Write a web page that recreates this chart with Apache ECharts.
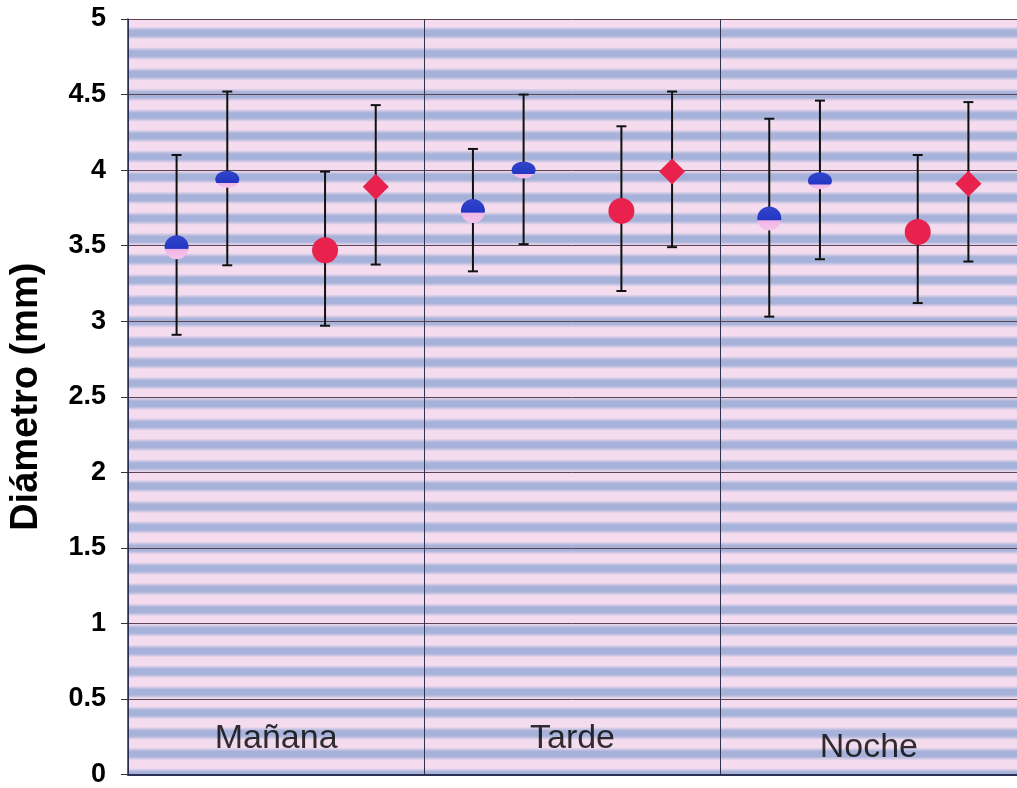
<!DOCTYPE html>
<html>
<head>
<meta charset="utf-8">
<style>html,body{margin:0;padding:0;background:#fff;}#c{width:1017px;height:788px;}</style>
<script src="https://cdn.jsdelivr.net/npm/echarts@6/dist/echarts.min.js"></script>
</head>
<body>
<div id="c"></div>
<script>
var categories = ['Mañana', 'Tarde', 'Noche'];
var yTicks = [0, 0.5, 1, 1.5, 2, 2.5, 3, 3.5, 4, 4.5, 5];
// [mean, low, high] per category
var serieA = [[3.49, 2.91, 4.10], [3.73, 3.33, 4.14], [3.68, 3.03, 4.34]];
var serieB = [[3.94, 3.37, 4.52], [4.00, 3.51, 4.50], [3.93, 3.41, 4.46]];
var serieC = [[3.47, 2.97, 3.99], [3.73, 3.20, 4.29], [3.59, 3.12, 4.10]];
var serieD = [[3.89, 3.375, 4.43], [3.99, 3.49, 4.52], [3.91, 3.395, 4.45]];
var labelHeights = [0.238, 0.238, 0.178];

// striped background pattern
var pc = document.createElement('canvas');
pc.width = 8; pc.height = 206;
var pctx = pc.getContext('2d');
pctx.fillStyle = '#f4dcee';
pctx.fillRect(0, 0, 8, 206);
for (var k = -1; k <= 10; k++) {
  var cy = 12.4 + k * 20.6;
  var g = pctx.createLinearGradient(0, cy - 6.5, 0, cy + 6.5);
  g.addColorStop(0, 'rgba(166,178,218,0)');
  g.addColorStop(0.3, 'rgba(166,178,218,1)');
  g.addColorStop(0.7, 'rgba(166,178,218,1)');
  g.addColorStop(1, 'rgba(166,178,218,0)');
  pctx.fillStyle = g;
  pctx.fillRect(0, cy - 6.5, 8, 13);
}

function blueGrad(split) {
  return new echarts.graphic.LinearGradient(0, 0, 0, 1, [
    {offset: 0, color: '#3346c8'},
    {offset: split, color: '#2236c4'},
    {offset: split + 0.05, color: '#f2b6e6'},
    {offset: 1, color: '#f4c4ec'}
  ]);
}

function makeSeries(name, data, offsetFrac, symbol) {
  return {
    name: name,
    type: 'custom',
    data: data.map(function (d, i) { return [i, d[0], d[1], d[2]]; }),
    encode: {x: 0, y: [1, 2, 3]},
    z: 5,
    renderItem: function (params, api) {
      var idx = api.value(0);
      var band = api.size([1, 0])[0];
      var pMean = api.coord([idx, api.value(1)]);
      var pLow = api.coord([idx, api.value(2)]);
      var pHigh = api.coord([idx, api.value(3)]);
      var x = pMean[0] + offsetFrac * band;
      var cap = 5;
      var ls = {stroke: '#111', lineWidth: 2};
      var children = [
        {type: 'line', shape: {x1: x, y1: pLow[1], x2: x, y2: pHigh[1]}, style: ls},
        {type: 'line', shape: {x1: x - cap, y1: pLow[1], x2: x + cap, y2: pLow[1]}, style: ls},
        {type: 'line', shape: {x1: x - cap, y1: pHigh[1], x2: x + cap, y2: pHigh[1]}, style: ls}
      ];
      var y = pMean[1];
      if (symbol === 'blueCircle') {
        children.push({type: 'circle', shape: {cx: x, cy: y, r: 12}, style: {fill: blueGrad(0.55)}});
      } else if (symbol === 'blueEllipse') {
        children.push({type: 'ellipse', shape: {cx: x, cy: y, rx: 12, ry: 8.5}, style: {fill: blueGrad(0.7)}});
      } else if (symbol === 'redCircle') {
        children.push({type: 'circle', shape: {cx: x, cy: y, r: 13}, style: {fill: '#e8224c'}});
      } else {
        children.push({type: 'polygon', shape: {points: [[x, y - 13], [x + 13, y], [x, y + 13], [x - 13, y]]}, style: {fill: '#e8224c'}});
      }
      return {type: 'group', children: children};
    }
  };
}

var chart = echarts.init(document.getElementById('c'), null, {renderer: 'canvas'});
var font = "'Liberation Sans', Arial, sans-serif";
chart.setOption({
  animation: false,
  grid: {left: 128, top: 19, right: -3, bottom: 12, show: true, backgroundColor: {image: pc, repeat: 'repeat'}, borderWidth: 0},
  xAxis: {
    type: 'category',
    data: categories,
    boundaryGap: true,
    axisLine: {show: true, lineStyle: {color: '#2a2f55', width: 2}},
    axisTick: {show: false},
    axisLabel: {show: false},
    splitLine: {show: true, lineStyle: {color: '#2e3350', width: 1}}
  },
  yAxis: {
    type: 'value',
    min: yTicks[0],
    max: yTicks[yTicks.length - 1],
    interval: 0.5,
    name: 'Diámetro (mm)',
    nameLocation: 'middle',
    nameGap: 82,
    nameTextStyle: {fontFamily: font, fontSize: 38, fontWeight: 'bold', color: '#000'},
    axisLine: {show: true, lineStyle: {color: '#2a2f55', width: 1.5}},
    axisTick: {show: true, length: 7, lineStyle: {color: '#333'}},
    axisLabel: {fontFamily: font, fontSize: 27, fontWeight: 'bold', color: '#000', margin: 22},
    splitLine: {show: true, lineStyle: {color: '#5e4452', width: 1}}
  },
  series: [
    makeSeries('A', serieA, -0.336, 'blueCircle'),
    makeSeries('B', serieB, -0.165, 'blueEllipse'),
    makeSeries('C', serieC, 0.165, 'redCircle'),
    makeSeries('D', serieD, 0.336, 'redDiamond'),
    {
      type: 'scatter',
      symbolSize: 0,
      z: 6,
      data: labelHeights.map(function (h, i) { return [i, h]; }),
      label: {
        show: true,
        position: 'inside',
        formatter: function (p) { return categories[p.data[0]]; },
        fontFamily: font,
        fontSize: 34,
        color: '#000',
        textBorderWidth: 0
      }
    }
  ]
});
</script>
</body>
</html>
